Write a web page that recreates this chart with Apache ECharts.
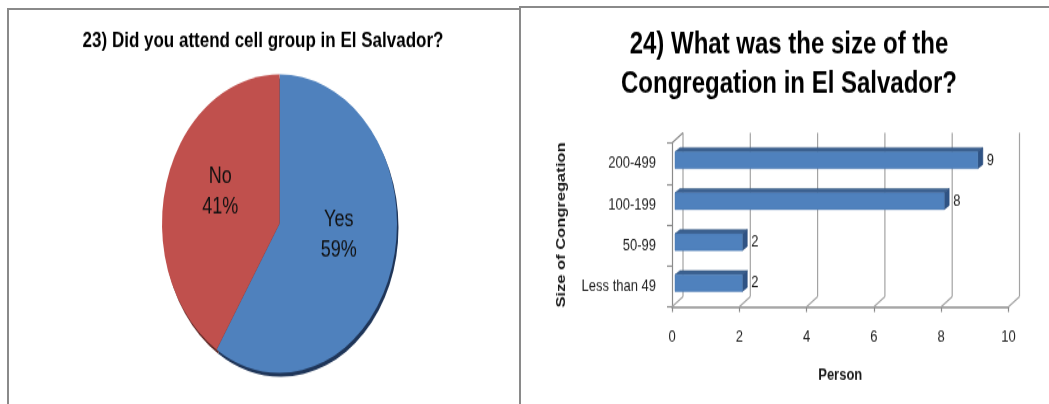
<!DOCTYPE html>
<html>
<head>
<meta charset="utf-8">
<script src="https://cdn.jsdelivr.net/npm/echarts@6/dist/echarts.min.js"></script>
<style>
  html, body { margin: 0; padding: 0; background: #ffffff; overflow: hidden; }
  #page { position: relative; width: 1049px; height: 404px; overflow: hidden; }
  .panel { position: absolute; border-top: 2px solid #8a8a8a; border-left: 2px solid #8a8a8a; box-sizing: border-box; }
  #panelL { left: 7px; top: 8px; width: 514px; height: 400px; }
  #panelR { left: 519px; top: 6px; width: 540px; height: 400px; }
  /* the whole figure is drawn at a shorter height and stretched vertically */
  #chart { position: absolute; left: 0; top: 0; width: 1049px; height: 318px;
           transform: scaleY(1.2704); transform-origin: 0 0; }
</style>
</head>
<body>
<div id="page">
  <div class="panel" id="panelL"></div>
  <div class="panel" id="panelR"></div>
  <div id="chart"></div>
</div>
<script>
// Question 23: attended a cell group
const pieCategories = ['Yes', 'No'];
const pieValues = [59, 41];
const pieColors = ['#4f81bd', '#c0504d'];
const pieEdgeColors = ['#1f3558', '#5c2624'];

// Question 24: size of the congregation (bottom to top)
const barCategories = ['Less than 49', '50-99', '100-199', '200-499'];
const barValues = [2, 2, 8, 9];
const xTicks = [0, 2, 4, 6, 8, 10];

const FONT = '"Liberation Sans", Arial, sans-serif';

// depth of the 3-D box behind the plot
const WALL_DX = 11, WALL_DY = -8.2;
// bar placement inside that depth
const BAR_OX = 3, BAR_OY = -2.7, BAR_DX = 5, BAR_DY = -3.2, BAR_RATIO = 0.41;

const chart = echarts.init(document.getElementById('chart'), null, { renderer: 'canvas' });

function renderWall(params, api) {
  const v = api.value(0);
  const cs = params.coordSys;
  const x = api.coord([v, 0])[0];
  const top = cs.y, bottom = cs.y + cs.height;
  const style = { stroke: '#a3a3a3', lineWidth: 1.2, fill: null };
  const children = [
    { type: 'line', shape: { x1: x + WALL_DX, y1: top + WALL_DY, x2: x + WALL_DX, y2: bottom + WALL_DY }, style },
    { type: 'line', shape: { x1: x, y1: bottom, x2: x + WALL_DX, y2: bottom + WALL_DY }, style }
  ];
  if (v === xTicks[0]) {
    children.push({ type: 'line', shape: { x1: x, y1: top, x2: x + WALL_DX, y2: top + WALL_DY },
                    style: { stroke: '#8a8a8a', lineWidth: 1.2, fill: null } });
  }
  return { type: 'group', children };
}

function renderBar(params, api) {
  const val = api.value(0), cat = api.value(1);
  const base = api.coord([0, cat]);
  const end = api.coord([val, cat]);
  const band = api.size([0, 1])[1];
  const h = band * BAR_RATIO;
  const x0 = base[0] + BAR_OX, x1 = end[0] + BAR_OX;
  const yT = base[1] + BAR_OY - h / 2, yB = yT + h;
  return {
    type: 'group',
    children: [
      { type: 'polygon', shape: { points: [[x0, yT], [x0 + BAR_DX, yT + BAR_DY], [x1 + BAR_DX, yT + BAR_DY], [x1, yT]] },
        style: { fill: '#3c6190', stroke: '#35577f', lineWidth: 0.5 } },
      { type: 'polygon', shape: { points: [[x1, yT], [x1 + BAR_DX, yT + BAR_DY], [x1 + BAR_DX, yB + BAR_DY], [x1, yB]] },
        style: { fill: '#2f5384', stroke: '#2c4d7a', lineWidth: 0.5 } },
      { type: 'rect', shape: { x: x0, y: yT, width: x1 - x0, height: h },
        style: { fill: '#4f81bd', stroke: '#4a78b0', lineWidth: 0.5 } },
      { type: 'text', x: x1 + BAR_DX + 4, y: (yT + yB) / 2,
        style: { text: String(val), fill: '#1a1a1a', font: '13px ' + FONT, verticalAlign: 'middle', align: 'left' } }
    ]
  };
}

chart.setOption({
  animation: false,
  backgroundColor: 'transparent',
  title: [
    {
      text: '23) Did you attend cell group in El Salvador?',
      left: 263, top: 24, padding: 0, textAlign: 'center',
      textStyle: { fontFamily: FONT, fontSize: 17, fontWeight: 'bold', color: '#000' }
    },
    {
      text: '24) What was the size of the\nCongregation in El Salvador?',
      left: 789, top: 20, padding: 0, textAlign: 'center',
      textStyle: { fontFamily: FONT, fontSize: 24, fontWeight: 'bold', color: '#000', lineHeight: 31 }
    }
  ],
  grid: { left: 672, right: 40.5, top: 112.6, bottom: 76.4, containLabel: false },
  xAxis: {
    type: 'value', min: 0, max: 10, interval: 2,
    name: 'Person', nameLocation: 'middle', nameGap: 47,
    nameTextStyle: { fontFamily: FONT, fontSize: 13, fontWeight: 'bold', color: '#1a1a1a' },
    axisLine: { show: true, lineStyle: { color: '#8a8a8a', width: 1.5 } },
    axisTick: { show: true, length: 4, lineStyle: { color: '#8a8a8a', width: 1.2 } },
    axisLabel: { margin: 17, fontFamily: FONT, fontSize: 13, color: '#222',
                 formatter: v => xTicks.includes(v) ? String(v) : '' },
    splitLine: { show: false }
  },
  yAxis: {
    type: 'category', data: barCategories,
    name: 'Size of Congregation', nameLocation: 'middle', nameGap: 104, nameRotate: 90,
    nameTextStyle: { fontFamily: FONT, fontSize: 13, fontWeight: 'bold', color: '#1a1a1a' },
    axisLine: { show: true, lineStyle: { color: '#8a8a8a', width: 1.2 } },
    axisTick: { show: true, length: 5, lineStyle: { color: '#8a8a8a', width: 1.2 } },
    axisLabel: { margin: 16, fontFamily: FONT, fontSize: 13, color: '#222' },
    splitLine: { show: false }
  },
  series: [
    {
      type: 'pie', name: 'edge', silent: true, z: 1,
      center: [281, 179], radius: 117.5, startAngle: 90, clockwise: true,
      label: { show: false }, labelLine: { show: false },
      itemStyle: { borderWidth: 0 },
      data: pieCategories.map((c, i) => ({ name: c, value: pieValues[i], itemStyle: { color: pieEdgeColors[i] } }))
    },
    {
      type: 'pie', name: 'cell group', z: 2,
      center: [279.5, 176], radius: 117.5, startAngle: 90, clockwise: true,
      itemStyle: { borderWidth: 0 },
      label: {
        show: true, position: 'inside', formatter: '{b}\n{d}%', offset: [0, -8],
        fontFamily: FONT, fontSize: 18, lineHeight: 24, color: '#111'
      },
      labelLine: { show: false },
      data: pieCategories.map((c, i) => ({ name: c, value: pieValues[i], itemStyle: { color: pieColors[i] } }))
    },
    {
      type: 'custom', name: 'walls', silent: true, z: 1,
      renderItem: renderWall,
      encode: { x: 0 },
      data: xTicks.map(v => [v])
    },
    {
      type: 'custom', name: 'Person', z: 3,
      renderItem: renderBar,
      encode: { x: 0, y: 1 },
      data: barValues.map((v, i) => [v, i])
    }
  ]
});
</script>
</body>
</html>
